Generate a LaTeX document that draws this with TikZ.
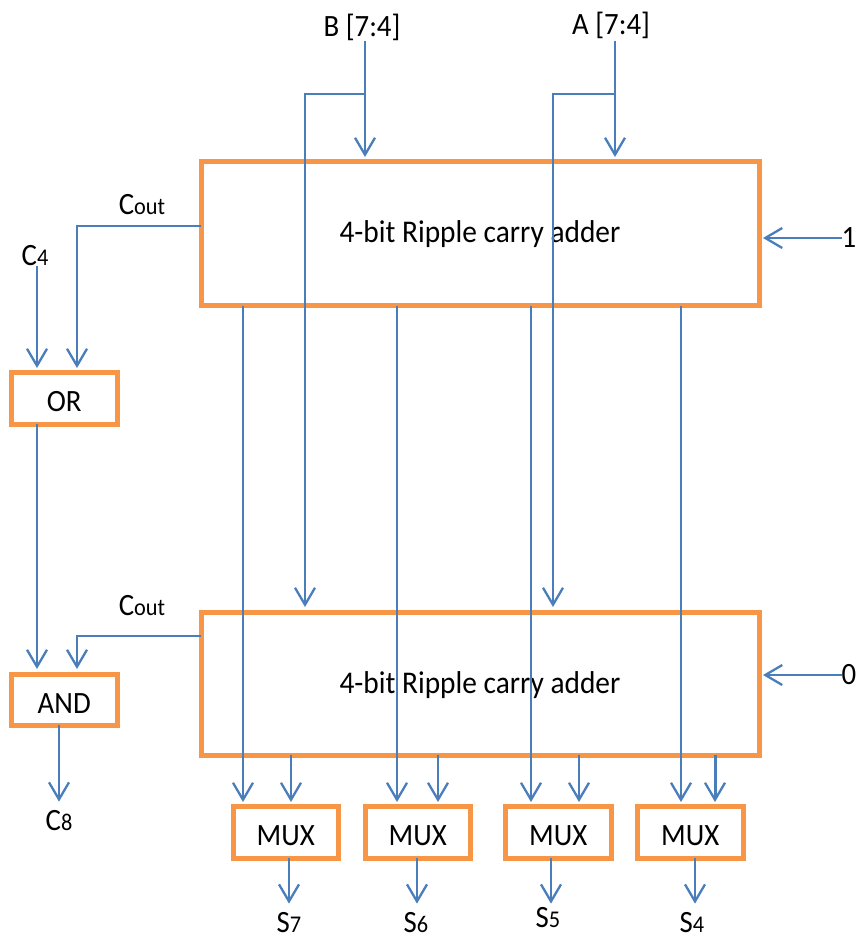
\documentclass[tikz,border=0pt]{standalone}
\usepackage{fontspec}
\setmainfont[FakeStretch=0.93]{Carlito}
\usetikzlibrary{arrows.meta}
\definecolor{boxorange}{HTML}{F79646}
\definecolor{wireblue}{HTML}{4A7EBB}
\tikzset{
  block/.style={draw=boxorange,line width=5pt,inner sep=0pt,outer sep=0pt,anchor=north west,font=\fontsize{31}{34}\selectfont},
  bigblock/.style={block,font=\fontsize{31.6}{34}\selectfont},
  wire/.style={draw=wireblue,line width=2.3pt},
  arrowwire/.style={wire,-{Straight Barb[length=17pt,width=20pt,line width=2.3pt]}},
  tipgap/.style={shorten >=#1},
  lbl/.style={inner sep=0pt,font=\fontsize{31}{34}\selectfont},
}
\newcommand{\suby}[1]{{\fontsize{24}{26}\selectfont #1}}
\newcommand{\lowered}[2]{\raisebox{-#1}[\height][\depth]{#2}}
\begin{document}
\begin{tikzpicture}[x=1pt,y=-1pt]
\useasboundingbox (0,0) rectangle (860,941);
% blocks
\node[bigblock,minimum width=558pt,minimum height=143.5pt] (add1) at (201,162) {4-bit Ripple carry adder};
\node[bigblock,minimum width=558pt,minimum height=143pt] (add2) at (201,612) {\lowered{2pt}{4-bit Ripple carry adder}};
\node[block,minimum width=106.5pt,minimum height=52pt] (orb) at (11,372) {\lowered{4pt}{OR}};
\node[block,minimum width=106.5pt,minimum height=51pt] (andb) at (11,674) {\lowered{4pt}{AND}};
\node[block,minimum width=105.5pt,minimum height=52pt] (m7) at (233,806) {\lowered{4pt}{MUX}};
\node[block,minimum width=105.5pt,minimum height=52pt] (m6) at (365,806) {\lowered{4pt}{MUX}};
\node[block,minimum width=105.5pt,minimum height=52pt] (m5) at (505.5,806) {\lowered{4pt}{MUX}};
\node[block,minimum width=105.5pt,minimum height=52pt] (m4) at (637.5,806) {\lowered{4pt}{MUX}};
% labels
\node[lbl] (lb) at (362,27) {B [7:4]};
\node[lbl] (la) at (611,25) {A [7:4]};
\node[lbl] (lone) at (849,238) {1};
\node[lbl] (lzero) at (849,675) {0};
\node[lbl] (lc1) at (142,205) {C\suby{out}};
\node[lbl] (lc2) at (142,606) {C\suby{out}};
\node[lbl] (lc4) at (35,256) {C\suby{4}};
\node[lbl] (lc8) at (59,821) {C\suby{8}};
\node[lbl] (ls7) at (289,923) {S\suby{7}};
\node[lbl] (ls6) at (416,923) {S\suby{6}};
\node[lbl] (ls5) at (548,918) {S\suby{5}};
\node[lbl] (ls4) at (692,923) {S\suby{4}};
% junctions on the two input buses
\coordinate (bj) at (365,94);
\coordinate (aj) at (615,94);
% inputs
\draw[arrowwire,tipgap=5pt] (bj |- lb.south) -- (bj |- add1.north);
\draw[arrowwire,tipgap=5pt] (aj |- lb.south) -- (aj |- add1.north);
\draw[arrowwire,tipgap=5pt] (bj) -- (305,94) -- (305,0 |- add2.north);
\draw[arrowwire,tipgap=5pt] (aj) -- (553,94) -- (553,0 |- add2.north);
\draw[arrowwire,tipgap=4pt] (lone.west) -- (lone.west -| add1.east);
\draw[arrowwire,tipgap=4pt] (lzero.west) -- (lzero.west -| add2.east);
% carries
\draw[arrowwire,tipgap=4pt] (add1.west |- 0,226) -- (77,226) -- (77,0 |- orb.north);
\draw[arrowwire,tipgap=4pt] (37,0 |- lc4.south) -- (37,0 |- orb.north);
\draw[arrowwire,tipgap=5pt] (37,0 |- orb.south) -- (37,0 |- andb.north);
\draw[arrowwire,tipgap=5pt] (add2.west |- 0,636) -- (77,636) -- (77,0 |- andb.north);
\draw[arrowwire,tipgap=9pt] (59,0 |- andb.south) -- (59,0 |- lc8.north);
% sums to muxes
\draw[arrowwire,tipgap=4pt] (243,0 |- add1.south) -- (243,0 |- m7.north);
\draw[arrowwire,tipgap=4pt] (397,0 |- add1.south) -- (397,0 |- m6.north);
\draw[arrowwire,tipgap=4pt] (531,0 |- add1.south) -- (531,0 |- m5.north);
\draw[arrowwire,tipgap=4pt] (681,0 |- add1.south) -- (681,0 |- m4.north);
\draw[arrowwire,tipgap=4pt] (291,0 |- add2.south) -- (291,0 |- m7.north);
\draw[arrowwire,tipgap=4pt] (438,0 |- add2.south) -- (438,0 |- m6.north);
\draw[arrowwire,tipgap=4pt] (579,0 |- add2.south) -- (579,0 |- m5.north);
\draw[arrowwire,tipgap=4pt,line width=3pt] (715,0 |- add2.south) -- (715,0 |- m4.north);
% mux outputs
\draw[arrowwire,tipgap=9pt] (289,0 |- m7.south) -- (289,0 |- ls7.north);
\draw[arrowwire,tipgap=9pt] (417,0 |- m6.south) -- (417,0 |- ls6.north);
\draw[arrowwire,tipgap=4pt] (551,0 |- m5.south) -- (551,0 |- ls5.north);
\draw[arrowwire,tipgap=9pt] (695,0 |- m4.south) -- (695,0 |- ls4.north);
\end{tikzpicture}
\end{document}
